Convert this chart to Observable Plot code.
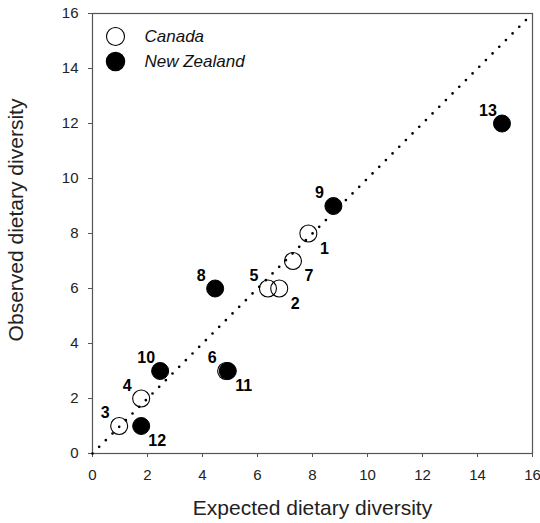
<!DOCTYPE html>
<html>
<head>
<meta charset="utf-8">
<script src="https://cdn.jsdelivr.net/npm/d3@7"></script>
<script src="https://cdn.jsdelivr.net/npm/@observablehq/plot@0.6"></script>
<style>
  html, body { margin: 0; padding: 0; background: #fff; }
  #chart svg { display: block; font-family: "Liberation Sans", Arial, sans-serif; }
</style>
</head>
<body>
<div id="chart"></div>
<script>
// ---- data ----
const ids      = [1, 2, 3, 4, 5, 6, 7, 8, 9, 10, 11, 12, 13];
const country  = ["Canada","Canada","Canada","Canada","Canada","Canada","Canada",
                  "New Zealand","New Zealand","New Zealand","New Zealand","New Zealand","New Zealand"];
const expected = [7.85, 6.79, 0.97, 1.77, 6.38, 4.86, 7.29, 4.46, 8.76, 2.46, 4.92, 1.77, 14.89];
const observed = [8, 6, 1, 2, 6, 3, 7, 6, 9, 3, 3, 1, 12];
const ticks    = [0, 2, 4, 6, 8, 10, 12, 14, 16];
const domain   = [0, 16];
const legendNames = ["Canada", "New Zealand"];

const points = ids.map((id, i) => ({id, country: country[i], x: expected[i], y: observed[i]}));

// label placement (layout only)
const lowerRight = new Set([1, 2, 7, 11, 12]);

const font = "Liberation Sans, Arial, sans-serif";

const chart = Plot.plot({
  width: 540,
  height: 523,
  marginLeft: 92,
  marginRight: 8,
  marginTop: 13,
  marginBottom: 70,
  style: {fontFamily: font, background: "#fff"},
  x: {domain, ticks},
  y: {domain, ticks},
  marks: [
    Plot.frame({stroke: "#555", strokeWidth: 1.2}),
    Plot.axisX({ticks, tickSize: 4, tickPadding: 12, fontSize: 15, stroke: "#555", fill: "#222", label: null}),
    Plot.axisY({ticks, tickSize: 4, tickPadding: 10, fontSize: 15, stroke: "#555", fill: "#222", label: null}),
    // 1:1 reference line
    Plot.line(domain, {x: d => d, y: d => d, stroke: "#000", strokeWidth: 2.7,
      strokeLinecap: "round", strokeDasharray: "0,9.43"}),
    Plot.dot(points.filter(d => d.country === "Canada"), {x: "x", y: "y", r: 8.5,
      fill: "none", stroke: "#000", strokeWidth: 1.1}),
    Plot.dot(points.filter(d => d.country === "New Zealand"), {x: "x", y: "y", r: 8.5,
      fill: "#000", stroke: "#000", strokeWidth: 1}),
    Plot.text(points.filter(d => !lowerRight.has(d.id)), {x: "x", y: "y", text: d => String(d.id),
      dx: -14, dy: -13, fontSize: 16, fontWeight: "bold", fill: "#000", lineAnchor: "middle"}),
    Plot.text(points.filter(d => lowerRight.has(d.id)), {x: "x", y: "y", text: d => String(d.id),
      dx: 16, dy: 15, fontSize: 16, fontWeight: "bold", fill: "#000", lineAnchor: "middle"}),
    // legend
    Plot.dot([legendNames[0]], {frameAnchor: "top-left", dx: 23, dy: 23, r: 9,
      fill: "none", stroke: "#000", strokeWidth: 1.1}),
    Plot.dot([legendNames[1]], {frameAnchor: "top-left", dx: 23, dy: 48, r: 9,
      fill: "#000", stroke: "#000"}),
    Plot.text([legendNames[0]], {frameAnchor: "top-left", dx: 52, dy: 23.5, text: d => d,
      textAnchor: "start", lineAnchor: "middle", fontSize: 17, fontStyle: "italic", fill: "#111"}),
    Plot.text([legendNames[1]], {frameAnchor: "top-left", dx: 52, dy: 48.5, text: d => d,
      textAnchor: "start", lineAnchor: "middle", fontSize: 17, fontStyle: "italic", fill: "#111"}),
    // axis titles
    Plot.text(["Expected dietary diversity"], {frameAnchor: "bottom", dy: 55, text: d => d,
      textAnchor: "middle", lineAnchor: "middle", fontSize: 21, fill: "#222"}),
    Plot.text(["Observed dietary diversity"], {frameAnchor: "left", dx: -76, dy: -13.5, text: d => d,
      rotate: -90, textAnchor: "middle", lineAnchor: "middle", fontSize: 21, fill: "#222"})
  ]
});
document.getElementById("chart").appendChild(chart);
</script>
</body>
</html>
